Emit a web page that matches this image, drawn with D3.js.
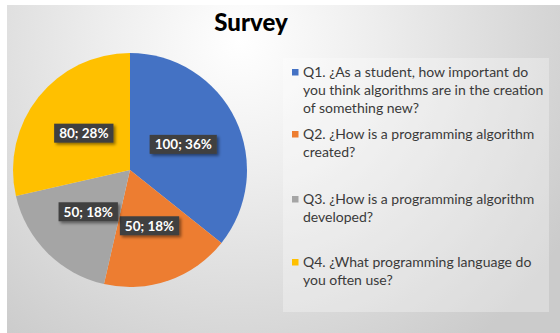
<!DOCTYPE html>
<html><head><meta charset="utf-8">
<script src="https://cdn.jsdelivr.net/npm/d3@7"></script>
<style>body{margin:0;background:#fff}svg{display:block}</style>
</head><body>
<script>
const categories = [
  "Q1. ¿As a student, how important do you think algorithms are in the creation of something new?",
  "Q2. ¿How is a programming algorithm created?",
  "Q3. ¿How is a programming algorithm developed?",
  "Q4. ¿What programming language do you often use?"
];
const legendLines = [
  ["Q1. ¿As a student, how important do", "you think algorithms are in the creation", "of something new?"],
  ["Q2. ¿How is a programming algorithm", "created?"],
  ["Q3. ¿How is a programming algorithm", "developed?"],
  ["Q4. ¿What programming language do", "you often use?"]
];
const values = [100, 50, 50, 80];
const percentLabels = ["36%", "18%", "18%", "28%"];
const colors = ["#4472C4", "#ED7D31", "#A5A5A5", "#FFC000"];
const title = "Survey";

const W = 560, H = 333;
const FONT = "Lato, 'Open Sans', sans-serif";
const svg = d3.select("body").append("svg").attr("width", W).attr("height", H);
const defs = svg.append("defs");
const rg = defs.append("radialGradient").attr("id", "bg")
  .attr("gradientUnits", "userSpaceOnUse")
  .attr("cx", 240).attr("cy", 40).attr("r", 380);
rg.append("stop").attr("offset", "0").attr("stop-color", "#ffffff");
rg.append("stop").attr("offset", "0.35").attr("stop-color", "#eeeeee");
rg.append("stop").attr("offset", "1").attr("stop-color", "#cbcbcb");
const sh = defs.append("filter").attr("id", "sh").attr("x", "-20%").attr("y", "-30%").attr("width", "150%").attr("height", "180%");
sh.append("feDropShadow").attr("dx", 2).attr("dy", 2).attr("stdDeviation", 1.5).attr("flood-color", "#000").attr("flood-opacity", 0.45);

svg.append("rect").attr("x", 7).attr("y", 5).attr("width", W - 7).attr("height", H - 5).attr("fill", "url(#bg)");

svg.append("text").attr("x", 251).attr("y", 31).attr("text-anchor", "middle")
  .attr("font-family", FONT).attr("font-weight", 900).attr("font-size", 24)
  .attr("fill", "#000").text(title);

// Pie
const cx = 130, cy = 170, R = 117;
const pie = d3.pie().sort(null).value(d => d)(values);
const arc = d3.arc().innerRadius(0).outerRadius(R);
const g = svg.append("g").attr("transform", `translate(${cx},${cy})`);
g.selectAll("path").data(pie).join("path").attr("d", arc).attr("fill", (d, i) => colors[i]);

const labArc = d3.arc().innerRadius(0).outerRadius(R * 1.01);
const lab = g.selectAll("g.lab").data(pie).join("g").attr("class", "lab")
  .attr("transform", d => `translate(${labArc.centroid(d)})`);
lab.each(function(d, i) {
  const s = d3.select(this);
  const t = s.append("text").attr("text-anchor", "middle").attr("dy", "0.36em")
    .attr("font-family", FONT).attr("font-weight", "bold").attr("font-size", 13.5)
    .attr("fill", "#fff").text(values[i] + "; " + percentLabels[i]);
  const w = t.node().getComputedTextLength();
  s.insert("rect", "text").attr("x", -w / 2 - 5).attr("y", -9.5).attr("width", w + 10).attr("height", 19)
    .attr("fill", "#404040").attr("filter", "url(#sh)");
});

// Legend
svg.append("rect").attr("x", 283).attr("y", 58).attr("width", 266).attr("height", 254)
  .attr("fill", "#ffffff").attr("fill-opacity", 0.3);
const entryY = [77, 139, 204, 267];
const lineH = 18;
const lg = svg.append("g");
legendLines.forEach((lines, i) => {
  lg.append("rect").attr("x", 292).attr("y", entryY[i] - 8).attr("width", 6.5).attr("height", 6.5).attr("fill", colors[i]);
  lines.forEach((ln, j) => {
    lg.append("text").attr("x", 303).attr("y", entryY[i] + j * lineH)
      .attr("font-family", FONT).attr("font-size", 14).attr("fill", "#3a3a3a").text(ln);
  });
});
</script>
</body></html>
